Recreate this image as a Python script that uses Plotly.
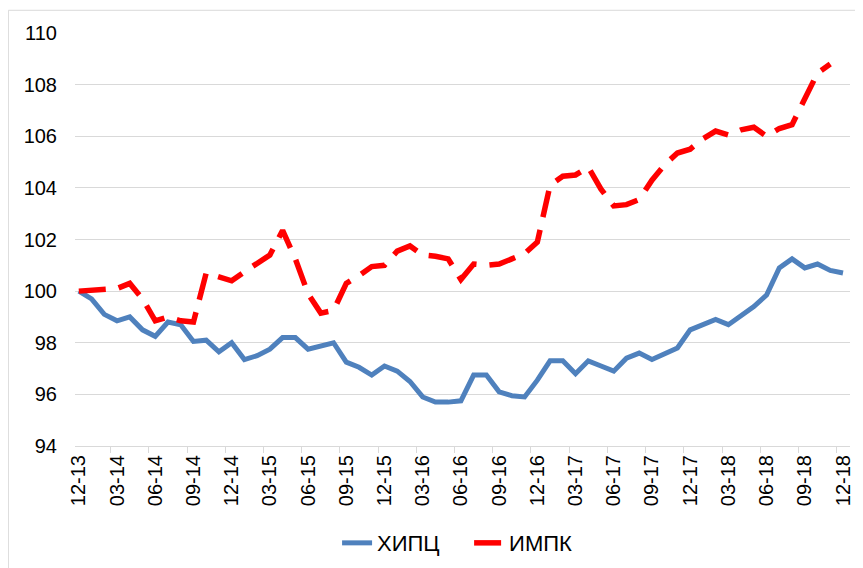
import pandas as pd
import plotly.graph_objects as go

# monthly categories 12-13 .. 12-18
months = list(pd.date_range("2013-12-01", "2018-12-01", freq="MS").strftime("%m-%y"))

hicp = [100.0, 99.7, 99.1, 98.85, 99.0, 98.5, 98.25, 98.8, 98.7, 98.05,
        98.1, 97.65, 98.0, 97.35, 97.5, 97.75, 98.2, 98.2, 97.75, 97.9,
        98.0, 97.25, 97.05, 96.75, 97.1, 96.9, 96.5, 95.9, 95.7, 95.7,
        95.75, 96.75, 96.75, 96.1, 95.95, 95.9, 96.55, 97.3, 97.3, 96.8,
        97.3, 97.1, 96.9, 97.4, 97.6, 97.35, 97.55, 97.8, 98.5, 98.7,
        98.9, 98.7, 99.05, 99.4, 99.85, 100.9, 101.25, 100.9, 101.05, 100.8,
        100.7]

impk = [100.0, 100.05, 100.05, 100.1, 100.3, 99.7, 98.85, 99.0, 98.85, 98.8,
        100.7, 100.55, 100.4, 100.75, 101.1, 101.4, 102.35, 101.25, 99.9, 99.15,
        99.25, 100.3, 100.6, 100.95, 101.0, 101.55, 101.75, 101.4, 101.35, 101.25,
        100.45, 101.05, 101.0, 101.05, 101.25, 101.45, 101.9, 104.1, 104.45, 104.5,
        104.8, 103.95, 103.3, 103.35, 103.55, 104.3, 104.9, 105.35, 105.5, 105.9,
        106.2, 106.05, 106.25, 106.35, 106.0, 106.3, 106.45, 107.5, 108.45, 108.8,
        None]

font = "Liberation Sans, Arial, sans-serif"

fig = go.Figure()

fig.add_trace(go.Scatter(
    x=months, y=hicp, mode="lines", name="ХИПЦ\u00a0\u00a0\u00a0\u00a0",
    line=dict(color="#4f81bd", width=5),
))
fig.add_trace(go.Scatter(
    x=months, y=impk, mode="lines", name="ИМПК",
    line=dict(color="#ff0000", width=5.5, dash="27px,13px"),
))

# outer chart border (page body adds an 8px offset)
fig.add_shape(type="rect", xref="paper", yref="paper",
              x0=-0.086, x1=1.03, y0=-0.35, y1=1.055,
              line=dict(color="#d9d9d9", width=1), layer="below")

fig.update_layout(
    width=855, height=560,
    margin=dict(l=67, r=13, t=25, b=122, autoexpand=False),
    paper_bgcolor="white", plot_bgcolor="white",
    font=dict(family=font, size=20, color="#000000"),
    showlegend=True,
    legend=dict(orientation="h", x=0.493, y=-0.235,
                xanchor="center", yanchor="middle",
                font=dict(size=22)),
    xaxis=dict(
        type="category", range=[-0.3, 60.55],
        tickmode="linear", tick0=0, dtick=3,
        tickson="boundaries", ticks="outside", ticklen=6,
        tickcolor="#d9d9d9", tickangle=-90,
        tickfont=dict(size=20),
        showline=True, linecolor="#d9d9d9", linewidth=1,
        showgrid=False, zeroline=False,
    ),
    yaxis=dict(
        range=[94, 110], tickvals=list(range(94, 111, 2)),
        showgrid=True, gridcolor="#d9d9d9", gridwidth=1,
        showline=False, zeroline=False, ticks="",
        ticklabelstandoff=17, tickfont=dict(size=20),
    ),
)

fig.write_html("out.html")
